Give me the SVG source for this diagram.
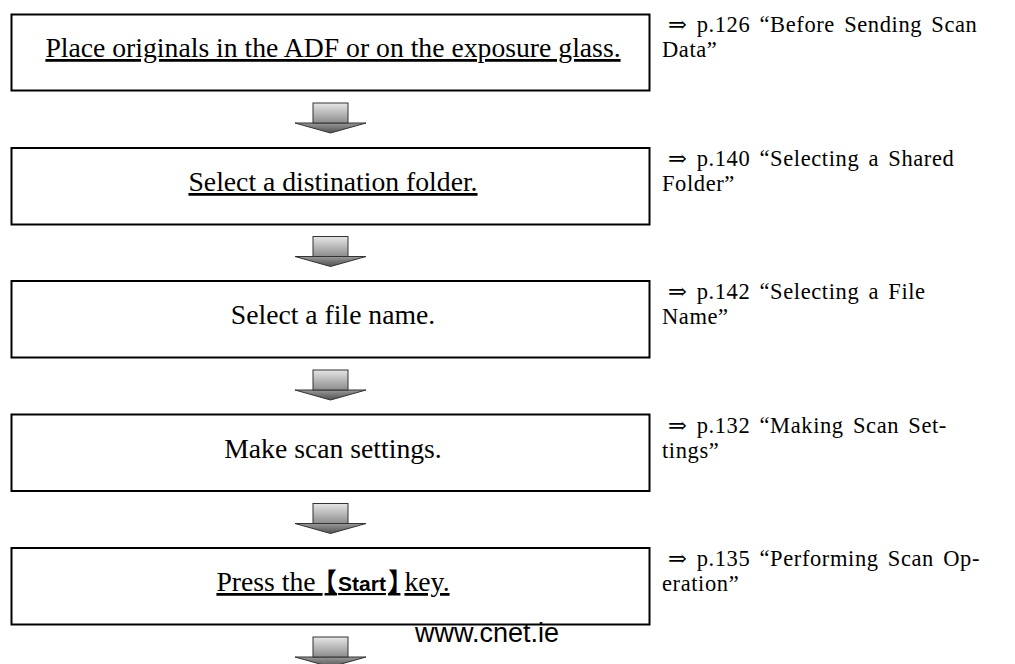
<svg xmlns="http://www.w3.org/2000/svg" width="1015" height="664" viewBox="0 0 1015 664">
<defs>
<linearGradient id="shaft" x1="0" y1="0" x2="0" y2="1">
<stop offset="0" stop-color="#e6e6e6"/>
<stop offset="1" stop-color="#8c8c8c"/>
</linearGradient>
<linearGradient id="head" x1="0" y1="0" x2="0" y2="1">
<stop offset="0" stop-color="#9a9a9a"/>
<stop offset="1" stop-color="#505050"/>
</linearGradient>
<g id="arrow">
<polygon points="295,20 366,20 330.5,30" fill="url(#head)" stroke="#333" stroke-width="1"/>
<rect x="313" y="0" width="35" height="20" fill="url(#shaft)" stroke="#333" stroke-width="1"/>
</g>
</defs>
<style>
.box{fill:#fff;stroke:#000;stroke-width:2}
.main{font-family:"Liberation Serif",serif;font-size:27.7px;fill:#000;text-anchor:middle}
.ul{text-decoration:underline}
.ref{font-family:"Liberation Serif","DejaVu Serif",serif;font-size:22.5px;letter-spacing:0.6px;word-spacing:3px;fill:#000}
.sans{font-family:"Liberation Sans",Arial,sans-serif;font-weight:bold}
.cjk{font-family:"Noto Sans CJK JP",sans-serif;font-weight:bold;font-feature-settings:"halt"}
.wm{font-family:"Liberation Sans",Arial,sans-serif;font-size:27px;fill:#000}
</style>
<rect width="1015" height="664" fill="#fff"/>
<g id="node1">
<rect class="box" x="11.5" y="14.5" width="638" height="76"/>
<text class="main ul" x="333" y="57">Place originals in the ADF or on the exposure glass.</text>
<text class="ref" x="668" y="32">⇒ p.126 “Before Sending Scan</text>
<text class="ref" x="662" y="57">Data”</text>
</g>
<g id="node2">
<rect class="box" x="11.5" y="148" width="638" height="76.5"/>
<text class="main ul" x="333" y="191">Select a distination folder.</text>
<text class="ref" x="668" y="166">⇒ p.140 “Selecting a Shared</text>
<text class="ref" x="662" y="191">Folder”</text>
</g>
<g id="node3">
<rect class="box" x="11.5" y="281" width="638" height="76.5"/>
<text class="main" x="333" y="324">Select a file name.</text>
<text class="ref" x="668" y="299">⇒ p.142 “Selecting a File</text>
<text class="ref" x="662" y="324">Name”</text>
</g>
<g id="node4">
<rect class="box" x="11.5" y="414.5" width="638" height="76.5"/>
<text class="main" x="333" y="458">Make scan settings.</text>
<text class="ref" x="668" y="433">⇒ p.132 “Making Scan Set-</text>
<text class="ref" x="662" y="458">tings”</text>
</g>
<g id="node5">
<rect class="box" x="11.5" y="548" width="638" height="76.5"/>
<text class="main ul" x="333" y="591">Press the <tspan class="cjk" font-size="25" dx="2">【</tspan><tspan class="sans" font-size="21" dx="1">Start</tspan><tspan class="cjk" font-size="25" dx="2">】</tspan><tspan dx="4">key.</tspan></text>
<text class="ref" x="668" y="566">⇒ p.135 “Performing Scan Op-</text>
<text class="ref" x="662" y="591">eration”</text>
</g>
<g id="connectors">
<use href="#arrow" x="0" y="103"/>
<use href="#arrow" x="0" y="236.5"/>
<use href="#arrow" x="0" y="370"/>
<use href="#arrow" x="0" y="503.5"/>
<use href="#arrow" x="0" y="637"/>
</g>
<text class="wm" x="415" y="642">www.cnet.ie</text>
</svg>
